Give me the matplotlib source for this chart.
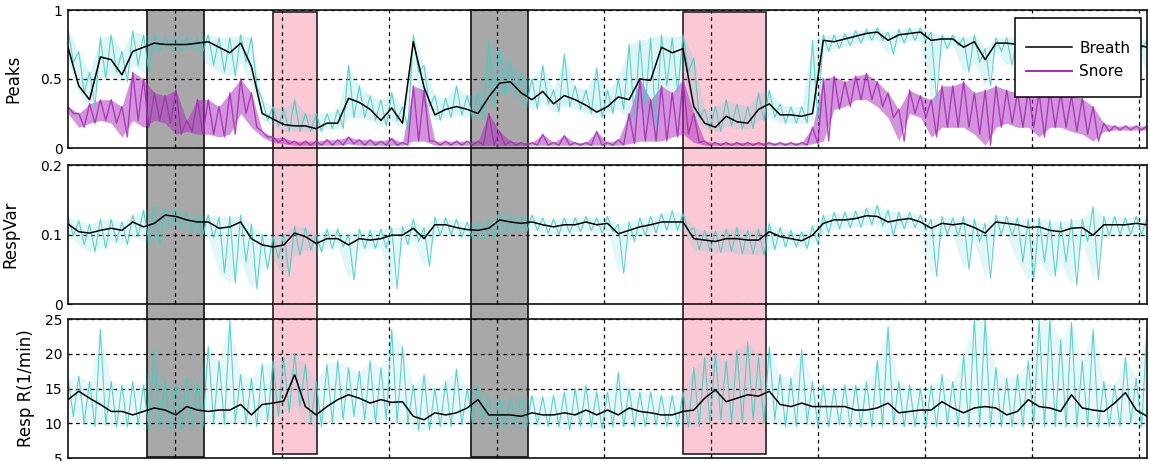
import numpy as np
import matplotlib
matplotlib.use("Agg")
import matplotlib.pyplot as plt
from matplotlib.patches import Rectangle
from matplotlib.transforms import blended_transform_factory

# ---------------------------------------------------------------- data
T_END = 10.07  # hours shown on the time axis

breath = [0.73, 0.45, 0.35, 0.66, 0.64, 0.53, 0.70, 0.73, 0.76, 0.75,
          0.75, 0.75, 0.76, 0.77, 0.73, 0.69, 0.76, 0.59, 0.25, 0.21,
          0.17, 0.16, 0.16, 0.14, 0.18, 0.18, 0.36, 0.33, 0.28, 0.20,
          0.29, 0.18, 0.77, 0.44, 0.24, 0.28, 0.30, 0.28, 0.25, 0.37,
          0.47, 0.48, 0.40, 0.35, 0.41, 0.32, 0.38, 0.35, 0.31, 0.26,
          0.30, 0.37, 0.35, 0.50, 0.49, 0.73, 0.69, 0.72, 0.30, 0.18,
          0.15, 0.23, 0.19, 0.18, 0.28, 0.32, 0.24, 0.24, 0.23, 0.25,
          0.78, 0.77, 0.79, 0.81, 0.83, 0.84, 0.78, 0.82, 0.83, 0.84,
          0.78, 0.79, 0.79, 0.73, 0.77, 0.64, 0.76, 0.76, 0.75, 0.77,
          0.78, 0.78, 0.77, 0.78, 0.77, 0.76, 0.77, 0.78, 0.76, 0.75,
          0.73]
breath_hi = [0.86, 0.70, 0.55, 0.80, 0.82, 0.70, 0.85, 0.82, 0.82, 0.80,
             0.80, 0.80, 0.80, 0.82, 0.80, 0.80, 0.82, 0.80, 0.35, 0.30,
             0.28, 0.35, 0.25, 0.25, 0.25, 0.28, 0.60, 0.45, 0.38, 0.35,
             0.40, 0.30, 0.82, 0.60, 0.38, 0.36, 0.45, 0.38, 0.40, 0.78,
             0.72, 0.62, 0.55, 0.50, 0.60, 0.42, 0.68, 0.45, 0.42, 0.58,
             0.42, 0.50, 0.75, 0.78, 0.80, 0.82, 0.80, 0.82, 0.65, 0.28,
             0.30, 0.35, 0.32, 0.30, 0.40, 0.42, 0.32, 0.30, 0.30, 0.78,
             0.82, 0.82, 0.83, 0.85, 0.86, 0.87, 0.84, 0.86, 0.87, 0.87,
             0.84, 0.82, 0.82, 0.80, 0.82, 0.72, 0.80, 0.80, 0.82, 0.80,
             0.80, 0.80, 0.80, 0.80, 0.80, 0.80, 0.80, 0.80, 0.80, 0.80,
             0.78]
breath_lo = [0.62, 0.40, 0.30, 0.50, 0.55, 0.48, 0.60, 0.55, 0.70, 0.72,
             0.70, 0.72, 0.70, 0.60, 0.55, 0.52, 0.62, 0.45, 0.20, 0.16,
             0.12, 0.12, 0.12, 0.12, 0.14, 0.14, 0.22, 0.22, 0.20, 0.16,
             0.20, 0.14, 0.55, 0.30, 0.20, 0.22, 0.24, 0.22, 0.20, 0.30,
             0.38, 0.40, 0.32, 0.28, 0.32, 0.26, 0.30, 0.28, 0.25, 0.22,
             0.25, 0.28, 0.20, 0.30, 0.15, 0.45, 0.40, 0.55, 0.22, 0.14,
             0.12, 0.16, 0.14, 0.14, 0.20, 0.22, 0.18, 0.18, 0.18, 0.20,
             0.70, 0.72, 0.74, 0.76, 0.78, 0.78, 0.68, 0.76, 0.78, 0.78,
             0.35, 0.72, 0.74, 0.55, 0.62, 0.45, 0.70, 0.60, 0.70, 0.72,
             0.72, 0.72, 0.72, 0.72, 0.72, 0.72, 0.72, 0.72, 0.72, 0.72,
             0.55]
snore_hi = [0.30, 0.25, 0.32, 0.35, 0.35, 0.30, 0.55, 0.50, 0.40, 0.38,
            0.42, 0.20, 0.35, 0.35, 0.30, 0.40, 0.50, 0.40, 0.12, 0.08,
            0.07, 0.05, 0.05, 0.05, 0.06, 0.06, 0.08, 0.06, 0.06, 0.05,
            0.07, 0.04, 0.45, 0.42, 0.05, 0.05, 0.05, 0.05, 0.05, 0.25,
            0.12, 0.05, 0.04, 0.04, 0.10, 0.04, 0.09, 0.04, 0.04, 0.12,
            0.04, 0.06, 0.25, 0.50, 0.35, 0.45, 0.40, 0.50, 0.25, 0.05,
            0.04, 0.04, 0.04, 0.04, 0.04, 0.04, 0.04, 0.04, 0.04, 0.15,
            0.50, 0.52, 0.48, 0.52, 0.54, 0.48, 0.40, 0.28, 0.42, 0.38,
            0.35, 0.45, 0.45, 0.48, 0.40, 0.42, 0.45, 0.42, 0.40, 0.42,
            0.40, 0.42, 0.40, 0.38, 0.36, 0.30, 0.18, 0.16, 0.16, 0.16,
            0.16]
snore_lo = [0.25, 0.15, 0.18, 0.20, 0.18, 0.08, 0.20, 0.15, 0.20, 0.18,
            0.10, 0.12, 0.10, 0.10, 0.08, 0.10, 0.25, 0.15, 0.08, 0.04,
            0.03, 0.02, 0.02, 0.02, 0.02, 0.02, 0.03, 0.02, 0.02, 0.02,
            0.02, 0.02, 0.05, 0.05, 0.02, 0.02, 0.02, 0.02, 0.02, 0.02,
            0.02, 0.02, 0.02, 0.02, 0.02, 0.02, 0.02, 0.02, 0.02, 0.02,
            0.02, 0.02, 0.03, 0.05, 0.05, 0.05, 0.08, 0.10, 0.04, 0.02,
            0.02, 0.02, 0.02, 0.02, 0.02, 0.02, 0.02, 0.02, 0.02, 0.03,
            0.05, 0.28, 0.30, 0.35, 0.35, 0.30, 0.22, 0.05, 0.25, 0.22,
            0.08, 0.15, 0.15, 0.15, 0.10, 0.02, 0.15, 0.18, 0.15, 0.15,
            0.08, 0.15, 0.15, 0.12, 0.10, 0.05, 0.12, 0.13, 0.13, 0.13,
            0.13]

var_mean = [0.115, 0.104, 0.102, 0.106, 0.109, 0.106, 0.118, 0.111, 0.116, 0.128,
            0.126, 0.121, 0.118, 0.118, 0.109, 0.111, 0.118, 0.094, 0.085, 0.082,
            0.085, 0.102, 0.097, 0.087, 0.094, 0.094, 0.085, 0.094, 0.092, 0.094,
            0.099, 0.099, 0.109, 0.094, 0.114, 0.114, 0.110, 0.107, 0.106, 0.109,
            0.121, 0.118, 0.116, 0.118, 0.114, 0.111, 0.114, 0.114, 0.118, 0.114,
            0.116, 0.101, 0.106, 0.111, 0.114, 0.118, 0.118, 0.118, 0.094, 0.092,
            0.090, 0.094, 0.094, 0.092, 0.092, 0.104, 0.097, 0.094, 0.091, 0.099,
            0.116, 0.121, 0.121, 0.123, 0.127, 0.126, 0.118, 0.121, 0.123, 0.118,
            0.109, 0.116, 0.114, 0.116, 0.110, 0.102, 0.118, 0.116, 0.114, 0.110,
            0.111, 0.106, 0.104, 0.109, 0.110, 0.099, 0.114, 0.114, 0.114, 0.116,
            0.114]
var_hi = [0.125, 0.120, 0.115, 0.122, 0.122, 0.118, 0.128, 0.135, 0.140, 0.138,
          0.136, 0.132, 0.128, 0.128, 0.125, 0.126, 0.128, 0.115, 0.100, 0.098,
          0.102, 0.112, 0.110, 0.100, 0.108, 0.108, 0.100, 0.108, 0.106, 0.108,
          0.110, 0.112, 0.122, 0.110, 0.125, 0.124, 0.122, 0.118, 0.118, 0.122,
          0.132, 0.128, 0.126, 0.128, 0.124, 0.122, 0.124, 0.124, 0.126, 0.124,
          0.126, 0.115, 0.118, 0.124, 0.126, 0.130, 0.134, 0.130, 0.110, 0.106,
          0.105, 0.108, 0.110, 0.106, 0.108, 0.116, 0.110, 0.106, 0.104, 0.112,
          0.128, 0.132, 0.132, 0.134, 0.138, 0.142, 0.135, 0.132, 0.132, 0.128,
          0.122, 0.126, 0.124, 0.126, 0.122, 0.116, 0.128, 0.126, 0.124, 0.122,
          0.124, 0.120, 0.118, 0.122, 0.122, 0.140, 0.126, 0.126, 0.124, 0.126,
          0.124]
var_lo = [0.098, 0.085, 0.075, 0.080, 0.090, 0.085, 0.098, 0.090, 0.085, 0.110,
          0.110, 0.105, 0.100, 0.095, 0.045, 0.030, 0.060, 0.022, 0.050, 0.065,
          0.040, 0.070, 0.078, 0.075, 0.080, 0.082, 0.035, 0.080, 0.080, 0.080,
          0.022, 0.085, 0.090, 0.054, 0.098, 0.100, 0.096, 0.095, 0.094, 0.095,
          0.100, 0.104, 0.104, 0.106, 0.102, 0.100, 0.102, 0.104, 0.106, 0.102,
          0.104, 0.044, 0.090, 0.098, 0.102, 0.106, 0.106, 0.104, 0.078, 0.076,
          0.074, 0.076, 0.072, 0.072, 0.070, 0.078, 0.082, 0.082, 0.080, 0.086,
          0.102, 0.108, 0.110, 0.110, 0.114, 0.112, 0.098, 0.108, 0.110, 0.106,
          0.040, 0.100, 0.098, 0.050, 0.090, 0.037, 0.100, 0.098, 0.060, 0.035,
          0.060, 0.040, 0.060, 0.027, 0.090, 0.035, 0.098, 0.100, 0.100, 0.100,
          0.090]

rate_mean = [13.4, 14.6, 13.6, 12.7, 11.7, 11.7, 11.2, 11.7, 12.2, 11.9,
             11.2, 12.4, 11.9, 11.7, 11.9, 11.9, 12.7, 11.2, 12.7, 12.9,
             13.2, 17.0, 12.4, 11.2, 12.4, 13.4, 14.1, 13.6, 12.9, 13.4,
             13.0, 13.1, 11.0, 10.5, 11.5, 11.2, 11.5, 12.2, 13.4, 11.2,
             11.2, 11.2, 11.0, 11.5, 11.2, 11.2, 11.5, 11.2, 11.9, 11.2,
             11.9, 11.2, 12.2, 11.7, 11.5, 11.2, 11.2, 11.7, 11.9, 13.6,
             14.8, 13.1, 13.6, 14.1, 13.9, 14.6, 12.7, 12.4, 12.9, 12.4,
             12.4, 12.4, 12.4, 11.9, 11.9, 12.2, 12.9, 11.5, 11.7, 11.9,
             11.9, 13.1, 12.2, 11.5, 12.2, 12.4, 12.2, 11.2, 11.7, 13.4,
             12.4, 12.2, 11.7, 14.1, 12.2, 11.9, 11.7, 12.9, 14.4, 11.9,
             11.0]
rate_hi = [16.5, 16.8, 16.0, 23.5, 16.0, 15.5, 16.0, 15.5, 20.5, 16.0,
           15.5, 16.5, 16.0, 21.0, 19.0, 24.8, 17.0, 16.5, 18.5, 19.0,
           19.5, 20.0, 18.5, 16.0, 18.5, 19.0, 18.0, 17.5, 19.0, 18.0,
           23.5, 21.0, 15.5, 17.0, 15.0, 16.0, 17.8, 15.0, 15.5, 13.8,
           13.5, 13.5, 13.8, 14.0, 13.8, 14.0, 14.5, 15.0, 15.5, 14.5,
           14.5, 17.3, 15.0, 14.5, 14.5, 14.0, 14.0, 14.5, 18.0, 19.5,
           20.0, 19.0, 20.5, 21.7, 19.5, 21.0, 17.0, 16.5, 20.6, 16.0,
           15.5, 15.0, 15.5, 15.5, 16.0, 19.0, 23.9, 16.0, 15.5, 15.0,
           15.5, 17.0, 16.0, 20.0, 25.0, 25.0, 18.0, 16.5, 17.0, 19.0,
           24.8, 25.0, 22.0, 24.5, 19.0, 23.5, 16.0, 15.5, 19.5, 16.5,
           23.5]
rate_lo = [11.0, 10.0, 9.5, 9.8, 9.5, 9.5, 9.8, 9.0, 9.5, 9.2,
           9.0, 9.8, 9.5, 10.0, 9.8, 10.0, 10.0, 9.5, 10.2, 11.0,
           11.5, 12.5, 10.0, 9.5, 10.0, 10.5, 11.0, 10.5, 10.0, 10.5,
           10.0, 10.0, 9.0, 9.0, 9.5, 9.5, 9.8, 10.0, 10.5, 9.5,
           9.5, 9.8, 9.5, 9.8, 9.5, 9.5, 9.0, 9.5, 9.5, 9.2,
           9.5, 9.5, 9.5, 9.5, 9.8, 9.5, 9.5, 9.5, 9.5, 10.0,
           10.5, 10.0, 10.0, 10.5, 10.0, 10.5, 9.5, 9.5, 10.0, 9.5,
           9.5, 9.8, 9.5, 9.5, 9.5, 9.5, 9.8, 9.5, 9.5, 9.5,
           9.5, 10.0, 9.5, 9.5, 9.5, 9.5, 9.5, 9.5, 9.5, 9.8,
           9.5, 9.5, 9.5, 9.5, 9.5, 9.5, 9.5, 9.5, 10.0, 9.5,
           9.5]

# marked episodes (start, end) in hours
gray_spans = [(0.738, 1.270), (3.763, 4.295)]
pink_spans = [(1.914, 2.325), (5.742, 6.517)]

panel_ylabels = ["Peaks", "RespVar", "Resp R(1/min)"]
panel_ylims = [(0, 1), (0, 0.2), (5, 25)]
panel_yticks = [[0, 0.5, 1], [0, 0.1, 0.2], [5, 10, 15, 20, 25]]
panel_yticklabels = [["0", "0.5", "1"], ["0", "0.1", "0.2"],
                     ["5", "10", "15", "20", "25"]]

# ---------------------------------------------------------------- style
CYAN = "#45cbc6"
PURPLE = "#a72ab8"
GRAY = "#a8a8a8"
PINK = "#fbc8d5"

plt.rcParams["font.family"] = ["DejaVu Sans"]

W, H = 1150, 461
fig = plt.figure(figsize=(W / 100, H / 100), dpi=100, facecolor="white")


def box(top, bottom, left=68, right=1147):
    return [left / W, (H - bottom) / H, (right - left) / W, (bottom - top) / H]


axes = [fig.add_axes(box(10, 148)),
        fig.add_axes(box(165, 304)),
        fig.add_axes(box(319, 458))]

t = np.linspace(0, T_END, len(breath))


def raw_trace(hi, lo):
    """Alternate between the upper and lower excursions of a raw signal."""
    half = (t[1] - t[0]) / 2
    tz = np.empty(2 * len(t))
    yz = np.empty(2 * len(t))
    tz[0::2], tz[1::2] = t, t + half
    yz[0::2], yz[1::2] = hi, lo
    return tz, yz


def draw_raw(ax, hi, lo, color, band_alpha, lw):
    ax.fill_between(t, lo, hi, color=color, alpha=band_alpha, lw=0, zorder=2)
    tz, yz = raw_trace(hi, lo)
    ax.plot(tz, yz, color=color, lw=lw, alpha=0.85, zorder=2.1)


# Peaks panel
ax = axes[0]
draw_raw(ax, breath_hi, breath_lo, CYAN, 0.18, 0.8)
draw_raw(ax, snore_hi, snore_lo, PURPLE, 0.5, 1.0)
h_breath, = ax.plot(t, breath, color="black", lw=1.1, zorder=3, label="Breath")
h_snore, = ax.plot([], [], color=PURPLE, lw=1.4, label="Snore")

# RespVar panel
draw_raw(axes[1], var_hi, var_lo, CYAN, 0.15, 0.8)
axes[1].plot(t, var_mean, color="black", lw=1.1, zorder=3)

# Respiration rate panel
draw_raw(axes[2], rate_hi, rate_lo, CYAN, 0.12, 0.8)
axes[2].plot(t, rate_mean, color="black", lw=1.1, zorder=3)

label_x = [-0.042, -0.045, -0.031]
for ax, lab, yl, yt, ytl, lx in zip(axes, panel_ylabels, panel_ylims,
                                     panel_yticks, panel_yticklabels, label_x):
    ax.set_facecolor("none")
    ax.set_xlim(0, T_END)
    ax.set_ylim(*yl)
    ax.set_xticks(range(1, 11))
    ax.set_xticklabels([])
    ax.set_yticks(yt)
    ax.set_yticklabels(ytl)
    ax.tick_params(direction="in", length=3, width=0.8, labelsize=10, pad=4)
    ax.grid(True, color="black", linestyle=(0, (3, 3)), linewidth=0.9)
    for s in ax.spines.values():
        s.set_linewidth(1.2)
        s.set_color("#111111")
    ax.set_ylabel(lab, fontsize=12)
    ax.yaxis.set_label_coords(lx, 0.5)

# legend with its own taller frame
leg_ax = axes[0]
leg_ax.add_patch(Rectangle((0.8777, 0.370), 0.1167, 0.572, transform=leg_ax.transAxes,
                           facecolor="white", edgecolor="black", lw=1.1, zorder=6))
leg = leg_ax.legend(handles=[h_breath, h_snore], loc="center",
                    bbox_to_anchor=(0.936, 0.638), frameon=False, fontsize=11,
                    handlelength=3.0, handletextpad=0.5, labelspacing=0.55,
                    borderpad=0, borderaxespad=0)
leg.set_zorder(7)

# episode shading across all three panels
trans = blended_transform_factory(axes[0].transData, fig.transFigure)
for x0, x1 in gray_spans:
    y0, y1 = (H - 457) / H, (H - 10) / H
    fig.add_artist(Rectangle((x0, y0), x1 - x0, y1 - y0, transform=trans,
                             facecolor=GRAY, edgecolor="#111111", lw=1.2, zorder=-1))
for x0, x1 in pink_spans:
    y0, y1 = (H - 454) / H, (H - 12.5) / H
    fig.add_artist(Rectangle((x0, y0), x1 - x0, y1 - y0, transform=trans,
                             facecolor=PINK, edgecolor="#222222", lw=1.2, zorder=-1))

fig.savefig("out.png", dpi=100, facecolor="white")
